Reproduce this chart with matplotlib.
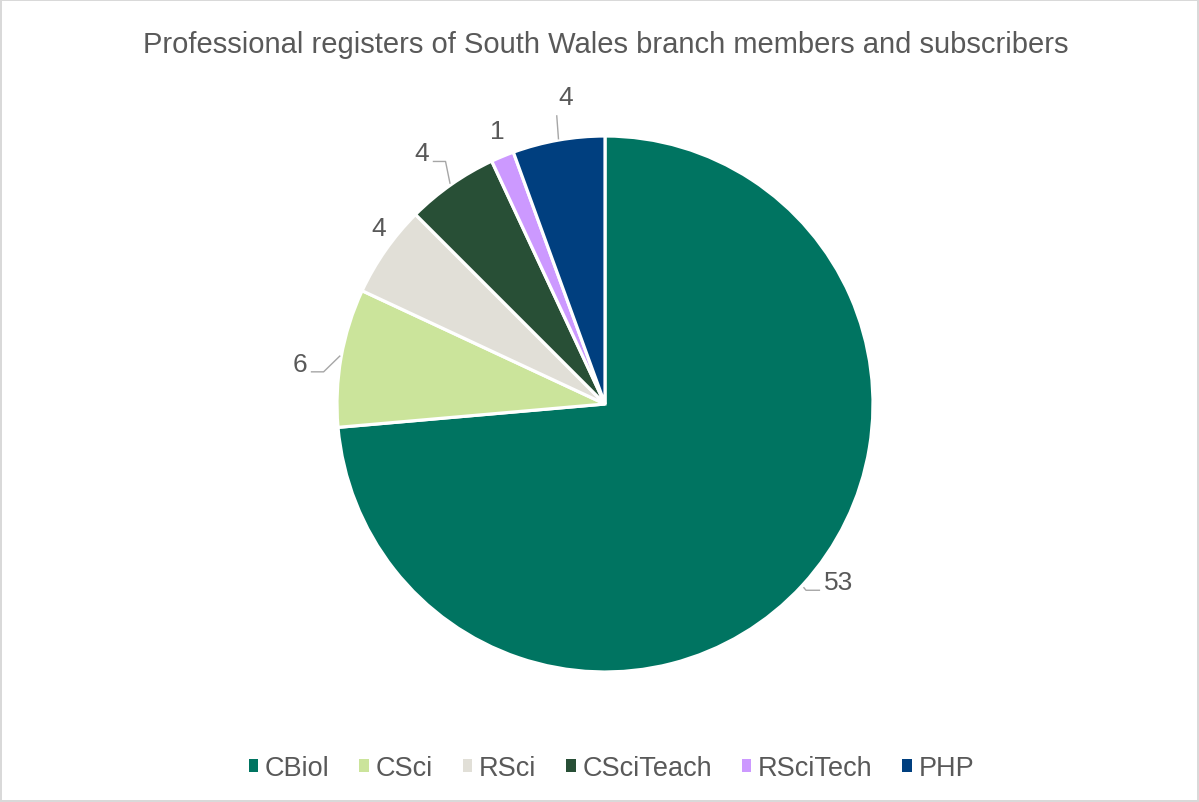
import numpy as np
import matplotlib.pyplot as plt
from matplotlib.patches import Patch

plt.rcParams['font.family'] = ['Liberation Sans', 'DejaVu Sans']

categories = ['CBiol', 'CSci', 'RSci', 'CSciTeach', 'RSciTech', 'PHP']
counts = [53, 6, 4, 4, 1, 4]
colors = ['#007461', '#CBE49B', '#E1DFD7', '#284F36', '#CC99FF', '#003F7F']
title = 'Professional registers of South Wales branch members and subscribers'

# label placement (x, y in pie-radius units) and leader style
label_pos = [(0.87, -0.665), (-1.14, 0.15), (-0.845, 0.655), (-0.685, 0.935), (-0.40, 1.02), (-0.145, 1.145)]
leader = ['left', 'right', None, 'right', None, 'down']

text_col = '#595959'
line_col = '#A6A6A6'

W, H = 1199, 803
fig = plt.figure(figsize=(W / 100, H / 100), dpi=100)
fig.patch.set_edgecolor('#D9D9D9')
fig.patch.set_linewidth(1.5)

cx, cy, r = 605, 405, 268
ax = fig.add_axes([(cx - r) / W, (H - cy - r) / H, 2 * r / W, 2 * r / H])

wedges, _ = ax.pie(counts, colors=colors, startangle=90, counterclock=False, radius=1.0,
                   wedgeprops=dict(edgecolor='white', linewidth=2.3))
ax.set_xlim(-1, 1)
ax.set_ylim(-1, 1)
ax.set_aspect('equal')
ax.axis('off')
for w in wedges:
    w.set_clip_on(False)

for w, val, (lx, ly), ld in zip(wedges, counts, label_pos, leader):
    mid = np.deg2rad((w.theta1 + w.theta2) / 2)
    ex, ey = np.cos(mid), np.sin(mid)
    ax.text(lx, ly, str(val), ha='center', va='center', fontsize=19, color=text_col, clip_on=False)
    if ld == 'right':
        tx = lx + 0.045
        hy = ly - 0.03
        ax.plot([tx, tx + 0.045, ex - 0.005], [hy, hy, ey + 0.005], color=line_col, lw=1, clip_on=False)
    elif ld == 'left':
        tx = lx - 0.07
        hy = ly - 0.03
        ax.plot([tx, tx - 0.05, ex + 0.005], [hy, hy, ey - 0.01], color=line_col, lw=1, clip_on=False)
    elif ld == 'down':
        ax.plot([lx - 0.035, ex], [ly - 0.07, ey + 0.005], color=line_col, lw=1, clip_on=False)

fig.text(0.505, 1 - 45 / H, title, ha='center', va='center', fontsize=21, color=text_col)

handles = [Patch(facecolor=c, edgecolor='none') for c in colors]
fig.legend(handles, categories, loc='center', bbox_to_anchor=(0.51, 1 - 769 / H), ncol=6,
           frameon=False, fontsize=19.5, labelcolor=text_col, handlelength=0.35, handleheight=0.35,
           handletextpad=0.25, columnspacing=1.1)

fig.savefig('out.png', dpi=100, edgecolor=fig.get_edgecolor())
